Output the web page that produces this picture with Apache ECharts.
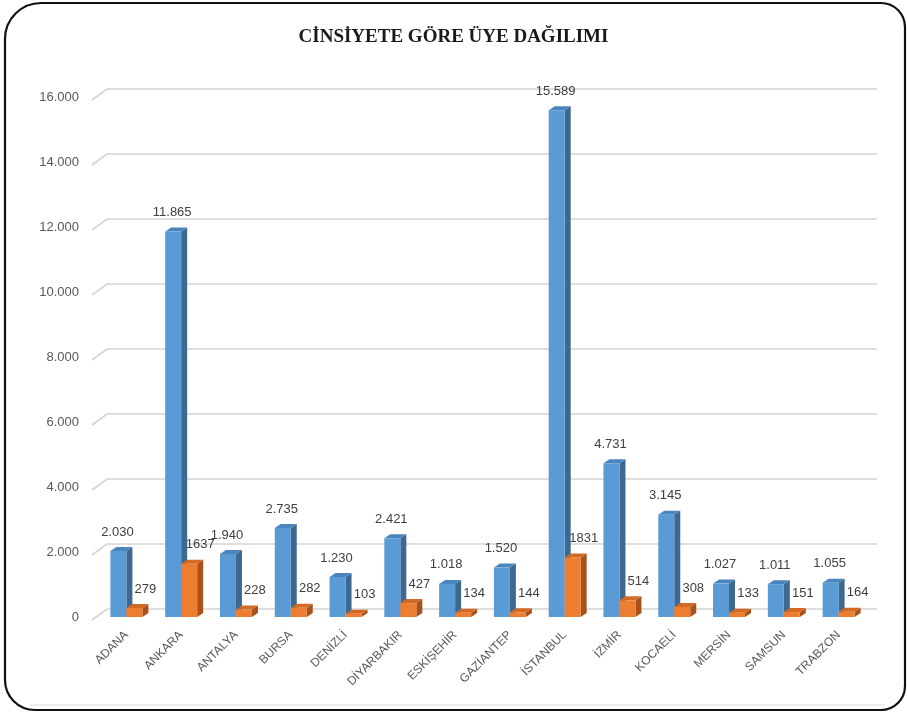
<!DOCTYPE html>
<html><head><meta charset="utf-8">
<script src="https://cdn.jsdelivr.net/npm/echarts@6/dist/echarts.min.js"></script>
<style>html,body{margin:0;padding:0;background:#fff}#c{width:907px;height:712px}</style>
</head><body><div id="c"></div>
<script>
const titleText = 'CİNSİYETE GÖRE ÜYE DAĞILIMI';
const categories = ['ADANA','ANKARA','ANTALYA','BURSA','DENİZLİ','DİYARBAKIR','ESKİŞEHİR','GAZİANTEP','İSTANBUL','İZMİR','KOCAELİ','MERSİN','SAMSUN','TRABZON'];
const blueValues = [2030, 11865, 1940, 2735, 1230, 2421, 1018, 1520, 15589, 4731, 3145, 1027, 1011, 1055];
const orangeValues = [279, 1637, 228, 282, 103, 427, 134, 144, 1831, 514, 308, 133, 151, 164];
const yTicks = [0, 2000, 4000, 6000, 8000, 10000, 12000, 14000, 16000];

function fmtDot(v){ return String(v).replace(/\B(?=(\d{3})+(?!\d))/g, '.'); }

const chart = echarts.init(document.getElementById('c'));
const BW = 16, DX = 6, DY = 4;

function barRenderer(side, colors, labelFmt, labelDx){
  return function(params, api){
    const idx = api.value(0), val = api.value(1);
    const p = api.coord([idx, val]);
    const p0 = api.coord([idx, 0]);
    const x0 = side === 0 ? p[0] - BW : p[0];
    const x1 = x0 + BW;
    const yt = p[1], yb = p0[1];
    return {
      type: 'group',
      children: [
        { type:'polygon', shape:{points:[[x1,yt],[x1+DX,yt-DY],[x1+DX,yb-DY],[x1,yb]]}, style:{fill:colors[1]} },
        { type:'polygon', shape:{points:[[x0,yt],[x0+DX,yt-DY],[x1+DX,yt-DY],[x1,yt]]}, style:{fill:colors[2]} },
        { type:'rect', shape:{x:x0, y:yt, width:BW, height:yb-yt}, style:{fill:colors[0]} },
        { type:'text', style:{ x:(x0+x1)/2 + labelDx, y:yt-19, text:labelFmt(val), align:'center', verticalAlign:'middle',
          fill:'#404040', font:'13px "Liberation Sans", Arial, sans-serif' } }
      ]
    };
  };
}

const option = {
  animation: false,
  backgroundColor: '#fff',
  grid: { left: 99, right: 41, top: 97, bottom: 95 },
  xAxis: {
    type: 'category', data: categories,
    axisLine: { show: false }, axisTick: { show: false }, splitLine: { show: false },
    axisLabel: { interval: 0, rotate: 45, margin: 16, color: '#595959', fontSize: 12, fontFamily: 'Liberation Sans, Arial, sans-serif' }
  },
  yAxis: {
    type: 'value', min: 0, max: 16000, interval: 2000,
    axisLine: { show: false }, axisTick: { show: false }, splitLine: { show: false },
    axisLabel: { margin: 20, color: '#595959', fontSize: 13, fontFamily: 'Liberation Sans, Arial, sans-serif', formatter: v => fmtDot(v) }
  },
  graphic: [
    { type:'rect', shape:{x:5, y:3, width:900, height:707, r:[36,24,24,30]}, style:{fill:'none', stroke:'#111', lineWidth:2.2}, z: 100 },
    { type:'line', shape:{x1:30, y1:705, x2:885, y2:705}, style:{stroke:'#dcdcdc', lineWidth:1} },
    { type:'text', left:'center', top: 28, style:{ text: titleText, fill:'#1a1a1a', font:'bold 19px "Liberation Serif", "Times New Roman", serif' } }
  ],
  series: [
    {
      type: 'custom', z: 1, silent: true,
      data: yTicks.map(v => [0, v]),
      renderItem: function(params, api){
        const cs = params.coordSys;
        const yf = api.coord([0, api.value(1)])[1];
        const xl = cs.x, xr = cs.x + cs.width;
        return { type:'polyline', shape:{ points:[[xl-7, yf+3],[xl+8, yf-8],[xr+11, yf-8]] },
          style:{ stroke:'#d4d4d4', lineWidth:1.6, fill:null } };
      }
    },
    {
      type: 'custom', z: 5, name: 'Erkek',
      data: blueValues.map((v,i) => [i, v]),
      renderItem: barRenderer(0, ['#5b9bd5', '#3c6891', '#4a86bd'], fmtDot, -1)
    },
    {
      type: 'custom', z: 6, name: 'Kadın',
      data: orangeValues.map((v,i) => [i, v]),
      renderItem: barRenderer(1, ['#ed7d31', '#a8521a', '#d26a24'], v => String(v), 11)
    }
  ]
};
chart.setOption(option);
</script></body></html>
